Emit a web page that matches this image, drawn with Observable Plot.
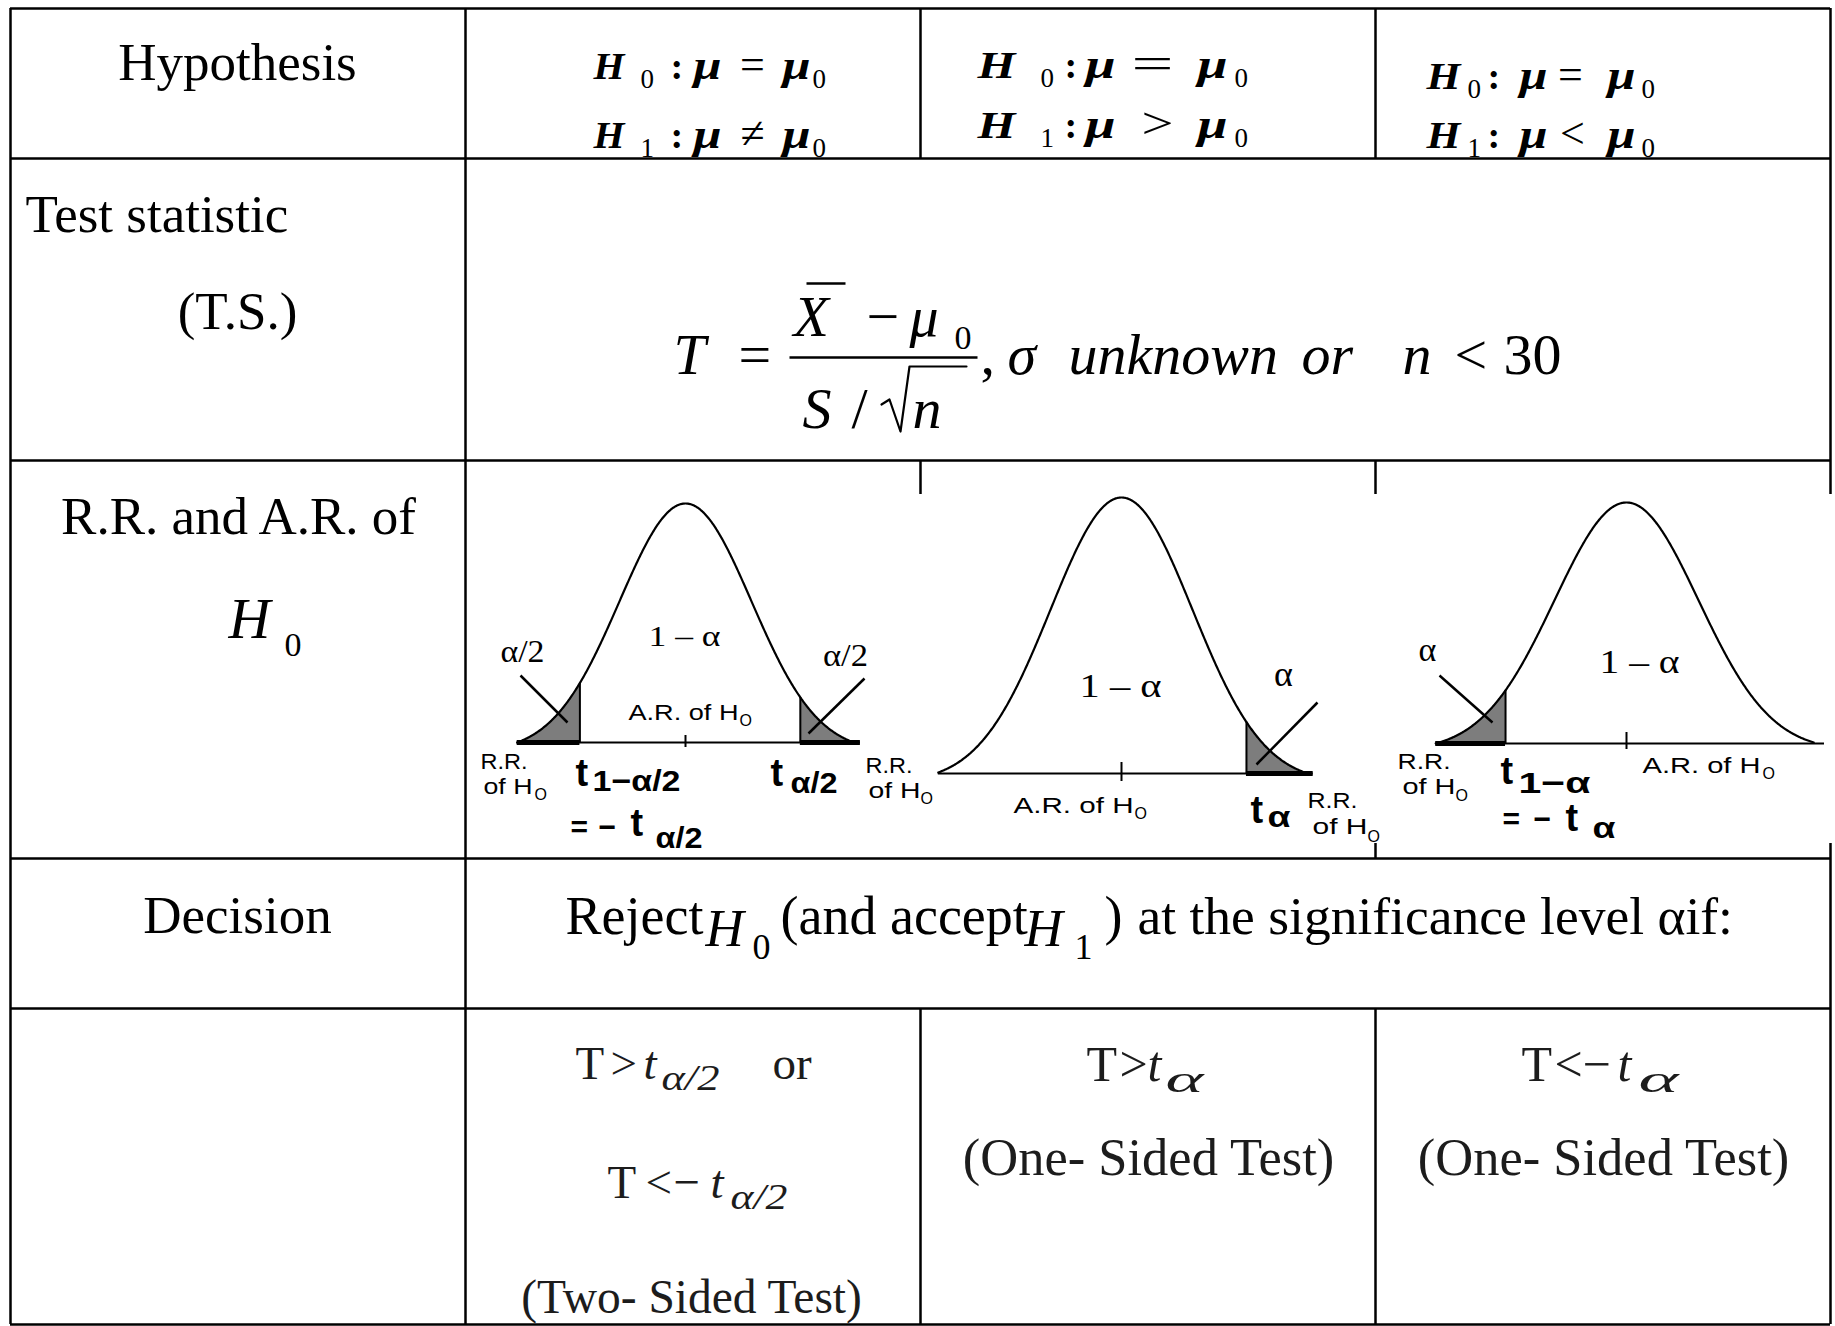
<!DOCTYPE html>
<html><head><meta charset="utf-8">
<script src="https://cdn.jsdelivr.net/npm/d3@7"></script>
<script src="https://cdn.jsdelivr.net/npm/@observablehq/plot@0.6"></script>
<style>
html,body{margin:0;padding:0;background:#fff;}
#wrap{position:relative;width:1835px;height:1326px;overflow:hidden;background:#fff;}
#wrap svg{position:absolute;left:0;top:0;max-width:none;overflow:visible;}
</style></head>
<body><div id="wrap"></div>
<script>
// ---------------- data (content only) ----------------
const rowLabels = ["Hypothesis", "Test statistic", "(T.S.)", "R.R. and A.R. of", "Decision"];
const hypSymbols = ["H", "μ", ":", "="];
const hypIndices = ["0", "1"];
const altRelations = ["≠", ">", "<"];
const statLeft = ["T", "="];
const statNumerator = ["X", "−", "μ", "0"];
const statDenominator = ["S", "/", "n"];
const statCondition = [",", "σ", "unknown", "or", "n", "<", "30"];
const decisionWords = ["Reject", "H", "0", "(and accept", "H", "1", ")", "at the significance level αif:"];
const ruleTokens = [
  ["T", ">", "t", "α/2", "or"],
  ["T", "<", "−", "t", "α/2"],
  ["T", ">", "t", "α"],
  ["T", "<", "−", "t", "α"]
];
const testNames = ["(Two- Sided Test)", "(One- Sided Test)", "(One- Sided Test)"];
const regionLabels = ["A.R. of H", "R.R.", "of H", "O"];
const areaLabels = ["1 – α", "1 – α", "1 – α"];
const tailLabels = [["α/2", "α/2"], ["α"], ["α"]];
const criticalTokens = [["t", "1−α/2", "=", "−", "t", "α/2", "t", "α/2"], ["t", "α"], ["t", "1−α", "=", "−", "t", "α"]];
// standardized positions
const criticalZ = [[-1.6, 1.74], [1.76], [-1.68]];
const curveExtent = [[-2.55, 2.55], [-2.58, 2.62], [-2.65, 2.6]];
const axisExtent = [[-2.55, 2.65], [-2.58, 2.7], [-2.65, 2.75]];

// ---------------- layout ----------------
const W = 1835, H = 1326;
const SERIF = "'Liberation Serif','Times New Roman',Times,serif";
const SANS = "'Liberation Sans',Arial,Helvetica,sans-serif";
const wrap = document.getElementById("wrap");

const curveLayout = [
  {cx: 685, s: 66, base: 742, peak: 503, tick: [5, 7]},
  {cx: 1121, s: 71, base: 773, peak: 497, tick: [8, 11]},
  {cx: 1626, s: 72, base: 743, peak: 502, tick: [6, 11]}
];
const phi = z => Math.exp(-z * z / 2);
curveLayout.forEach((L, i) => {
  const ext = curveExtent[i], axis = axisExtent[i], cuts = criticalZ[i];
  const zEnd = Math.max(Math.abs(ext[0]), Math.abs(ext[1]));
  const dens = z => Math.max(0, (phi(z) - phi(zEnd)) / (1 - phi(zEnd)));
  const pts = d3.range(ext[0], ext[1] + 1e-9, 0.01).map(z => ({z, d: dens(z)}));
  const tails = [];
  const segs = [];
  cuts.forEach((c, k) => {
    const a = c < 0 ? ext[0] : c, b = c < 0 ? c : ext[1];
    d3.range(a, b + 1e-9, 0.01).concat([b]).forEach(z => tails.push({z, d: dens(z), side: k}));
    segs.push(c < 0 ? [axis[0], c] : [c, axis[1]]);
  });
  const svg = Plot.plot({
    width: W, height: H, margin: 0,
    style: {background: "transparent", overflow: "visible"},
    x: {type: "linear", domain: [0, 1], range: [L.cx, L.cx + L.s], axis: null},
    y: {type: "linear", domain: [0, 1], range: [L.base, L.peak], axis: null},
    marks: [
      Plot.areaY(tails, {x: "z", y: "d", z: "side", fill: "#7d7d7d"}),
      Plot.ruleX(cuts, {x: d => d, y1: () => 0, y2: d => dens(d), stroke: "#000", strokeWidth: 2}),
      Plot.ruleY([0], {y: () => 0, x1: () => axis[0], x2: () => axis[1], stroke: "#000", strokeWidth: 2}),
      Plot.ruleY(segs, {y: () => 0, x1: d => d[0], x2: d => d[1], stroke: "#000", strokeWidth: 5}),
      Plot.ruleX([0], {x: d => d, y1: () => 0, y2: () => 0, insetTop: L.tick[0], insetBottom: L.tick[1], stroke: "#000", strokeWidth: 2}),
      Plot.line(pts, {x: "z", y: "d", stroke: "#000", strokeWidth: 2.2})
    ]
  });
  wrap.appendChild(svg);
});

// text runs
const R = [];
const add = (t, x, y, o) => R.push({t, x, y, o: o || {}});

// row 1: hypotheses
add(rowLabels[0], 237, 79, {size: 53, anchor: "middle"});
const hypCols = [
  {H: 593, Hw: 31, sub: 640, colon: 670, mu1: 693, muW: 28, rel: [752, 752], relW: [null, null], mu2: 782, sub2: 812, y: [78, 147]},
  {H: 977, Hw: 38, sub: 1040, colon: 1064, mu1: 1085, muW: 30, rel: [1152, 1157], relW: [42, 32], mu2: 1197, sub2: 1234, y: [77, 137]},
  {H: 1426, Hw: 34, sub: 1467, colon: 1487, mu1: 1519, muW: 28, rel: [1570, 1572], relW: [null, null], mu2: 1607, sub2: 1641, y: [88, 147]}
];
hypCols.forEach((c, i) => {
  [0, 1].forEach(line => {
    const y = c.y[line];
    add(hypSymbols[0], c.H, y, {size: 38, italic: true, bold: true, w: c.Hw});
    add(hypIndices[line], c.sub, y + 9, {size: 27});
    add(hypSymbols[2], c.colon, y, {size: 38, bold: true});
    add(hypSymbols[1], c.mu1, y, {size: 40, italic: true, bold: true, w: c.muW});
    add(line === 0 ? hypSymbols[3] : altRelations[i], c.rel[line], y, {size: 44, anchor: "middle", w: c.relW[line]});
    add(hypSymbols[1], c.mu2, y, {size: 40, italic: true, bold: true, w: c.muW});
    add(hypIndices[0], c.sub2, y + 9, {size: 27});
  });
});

// row 2: test statistic
add(rowLabels[1], 25, 231, {size: 53});
add(rowLabels[2], 237, 328, {size: 53, anchor: "middle"});
add(statLeft[0], 673, 373, {size: 58, italic: true});
add(statLeft[1], 738, 373, {size: 58});
add(statNumerator[0], 793, 335, {size: 58, italic: true});
add(statNumerator[1], 866, 335, {size: 58});
add(statNumerator[2], 909, 335, {size: 58, italic: true});
add(statNumerator[3], 954, 348, {size: 34});
add(statDenominator[0], 802, 427, {size: 58, italic: true});
add(statDenominator[1], 851, 427, {size: 58});
add(statDenominator[2], 912, 427, {size: 58, italic: true});
const condX = [980, 1007, 1068, 1301, 1402, 1454, 1503];
const condItalic = [false, true, true, true, true, false, false];
statCondition.forEach((t, k) => add(t, condX[k], 373, {size: 58, italic: condItalic[k]}));

// row 3 left label
add(rowLabels[3], 238, 533, {size: 53, anchor: "middle"});
add("H", 228, 637, {size: 58, italic: true});
add("0", 284, 655, {size: 34});

// row 4 decision
add(rowLabels[4], 237, 932, {size: 53, anchor: "middle"});
const decX = [565, 705, 752, 780, 1024, 1074, 1104, 1137];
const decY = [933, 945, 958, 933, 945, 958, 933, 933];
const decSize = [54, 53, 36, 54, 53, 36, 54, 53.5];
const decItalic = [false, true, false, false, true, false, false, false];
decisionWords.forEach((t, k) => add(t, decX[k], decY[k], {size: decSize[k], italic: decItalic[k]}));

// row 5 rejection rules
const RC = "#1c1c1c";
const ruleLayout = [
  {x: [575, 610, 643, 661, 772], y: 1078, size: 47, sub: 36, subW: 58},
  {x: [607, 645, 673, 710, 730], y: 1197, size: 47, sub: 36, subW: 57},
  {x: [1086, 1119, 1147, 1165], y: 1080, size: 50, sub: 38, subW: 38},
  {x: [1521, 1554, 1582, 1617, 1638], y: 1080, size: 50, sub: 38, subW: 40}
];
ruleTokens.forEach((toks, r) => {
  const L = ruleLayout[r];
  toks.forEach((t, k) => {
    const isSub = t.startsWith("α");
    const isT = t === "t";
    add(t, L.x[k], isSub ? L.y + 11 : L.y, {size: isSub ? L.sub : L.size, italic: isSub || isT, color: RC, w: isSub ? L.subW : null});
  });
});
add(testNames[0], 691, 1312, {size: 47.5, anchor: "middle", color: RC});
add(testNames[1], 1148, 1174, {size: 52.5, anchor: "middle", color: RC});
add(testNames[2], 1603, 1174, {size: 52.5, anchor: "middle", color: RC});

// curve labels
// curve 1
add(tailLabels[0][0], 522, 661, {size: 31, anchor: "middle", w: 44});
add(areaLabels[0], 684, 645, {size: 30, anchor: "middle", w: 72});
add(tailLabels[0][1], 845, 665, {size: 31, anchor: "middle", w: 45});
add(regionLabels[0], 628, 719, {size: 22, font: SANS, w: 110});
add(regionLabels[3], 739, 725, {size: 16, font: SANS});
add(regionLabels[1], 480, 768, {size: 22, font: SANS, w: 47});
add(regionLabels[2], 483, 793, {size: 22, font: SANS, w: 49});
add(regionLabels[3], 534, 799, {size: 16, font: SANS});
add(regionLabels[1], 865, 772, {size: 22, font: SANS, w: 47});
add(regionLabels[2], 868, 797, {size: 22, font: SANS, w: 52});
add(regionLabels[3], 920, 803, {size: 16, font: SANS});
const c1 = criticalTokens[0];
add(c1[0], 575, 785, {size: 38, font: SANS, bold: true});
add(c1[1], 592, 790, {size: 30, font: SANS, bold: true, w: 88});
add(c1[2], 570, 836, {size: 30, font: SANS, bold: true});
add(c1[3], 598, 836, {size: 30, font: SANS, bold: true});
add(c1[4], 630, 835, {size: 38, font: SANS, bold: true});
add(c1[5], 655, 847, {size: 30, font: SANS, bold: true, w: 47});
add(c1[6], 770, 785, {size: 38, font: SANS, bold: true});
add(c1[7], 790, 792, {size: 30, font: SANS, bold: true, w: 47});
// curve 2
add(areaLabels[1], 1120, 696, {size: 34, anchor: "middle", w: 82});
add(tailLabels[1][0], 1283, 685, {size: 36, anchor: "middle"});
add(regionLabels[0], 1013, 812, {size: 22, font: SANS, w: 120});
add(regionLabels[3], 1134, 818, {size: 16, font: SANS});
add(criticalTokens[1][0], 1250, 822, {size: 38, font: SANS, bold: true});
add(criticalTokens[1][1], 1267, 826, {size: 30, font: SANS, bold: true, w: 23});
add(regionLabels[1], 1307, 807, {size: 22, font: SANS, w: 50});
add(regionLabels[2], 1312, 833, {size: 22, font: SANS, w: 55});
add(regionLabels[3], 1367, 841, {size: 16, font: SANS});
// curve 3
add(tailLabels[2][0], 1427, 660, {size: 34, anchor: "middle"});
add(areaLabels[2], 1639, 672, {size: 33, anchor: "middle", w: 80});
add(regionLabels[1], 1397, 768, {size: 22, font: SANS, w: 53});
add(regionLabels[2], 1402, 793, {size: 22, font: SANS, w: 53});
add(regionLabels[3], 1455, 800, {size: 16, font: SANS});
const c3 = criticalTokens[2];
add(c3[0], 1500, 783, {size: 38, font: SANS, bold: true});
add(c3[1], 1518, 792, {size: 30, font: SANS, bold: true, w: 72});
add(c3[2], 1502, 828, {size: 30, font: SANS, bold: true});
add(c3[3], 1533, 828, {size: 30, font: SANS, bold: true});
add(c3[4], 1565, 830, {size: 38, font: SANS, bold: true});
add(c3[5], 1592, 837, {size: 30, font: SANS, bold: true, w: 23});
add(regionLabels[0], 1642, 772, {size: 22, font: SANS, w: 118});
add(regionLabels[3], 1762, 778, {size: 16, font: SANS});

const textMarks = R.map(r => Plot.text([r.t], Object.assign({
  x: () => r.x, y: () => r.y, text: d => d,
  textAnchor: r.o.anchor || "start", lineAnchor: "bottom",
  fontSize: r.o.size || 50, fontFamily: r.o.font || SERIF,
  fontStyle: r.o.italic ? "italic" : "normal",
  fontWeight: r.o.bold ? "bold" : "normal",
  fill: r.o.color || "#000"
}, r.o.w ? {ariaDescription: "fit-" + r.o.w} : {})));

// table grid
const hLines = [[8, 10, 1830], [158, 10, 1830], [460, 10, 1830], [858, 10, 1830], [1008, 10, 1830], [1324, 10, 1830]];
const vLines = [[10, 8, 1324], [465, 8, 1324], [920, 8, 158], [920, 460, 494], [920, 1008, 1324],
  [1375, 8, 158], [1375, 460, 494], [1375, 843, 858], [1375, 1008, 1324], [1830, 8, 494], [1830, 843, 1324]];
const strokes = [
  {x1: 520, y1: 675, x2: 567, y2: 722, w: 2.5}, {x1: 864, y1: 678, x2: 808, y2: 733, w: 2.5},
  {x1: 1317, y1: 702, x2: 1256, y2: 764, w: 2.5}, {x1: 1439, y1: 675, x2: 1492, y2: 722, w: 2.5},
  {x1: 789, y1: 357, x2: 977, y2: 357, w: 2.5}, {x1: 806, y1: 283, x2: 845, y2: 283, w: 2.5}
];
const radical = [[881, 404], [889, 399], [900, 431], [909, 366], [966, 366]];

const main = Plot.plot({
  width: W, height: H, margin: 0,
  style: {background: "transparent", overflow: "visible"},
  x: {type: "linear", domain: [0, W], range: [0, W], axis: null},
  y: {type: "linear", domain: [0, H], range: [0, H], axis: null},
  marks: [
    Plot.ruleY(hLines, {y: d => d[0], x1: d => d[1], x2: d => d[2], stroke: "#000", strokeWidth: 2.5}),
    Plot.ruleX(vLines, {x: d => d[0], y1: d => d[1], y2: d => d[2], stroke: "#000", strokeWidth: 2.5}),
    Plot.link(strokes, {x1: "x1", y1: "y1", x2: "x2", y2: "y2", stroke: "#000", strokeWidth: d => d.w}),
    Plot.line(radical, {x: d => d[0], y: d => d[1], stroke: "#000", strokeWidth: 2.2}),
    ...textMarks
  ]
});
wrap.appendChild(main);
main.querySelectorAll("g[aria-description^='fit-']").forEach(g => {
  const w = g.getAttribute("aria-description").slice(4);
  g.querySelectorAll("text").forEach(t => {
    t.setAttribute("textLength", w);
    t.setAttribute("lengthAdjust", "spacingAndGlyphs");
  });
});
</script>
</body></html>
